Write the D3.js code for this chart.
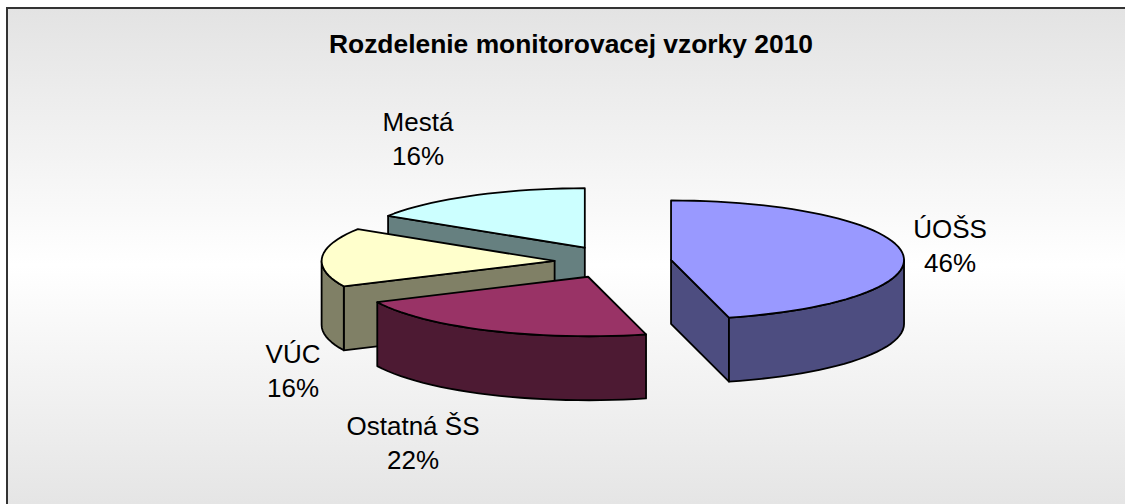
<!DOCTYPE html>
<html>
<head>
<meta charset="utf-8">
<script src="https://cdn.jsdelivr.net/npm/d3@7"></script>
<style>
  html, body { margin: 0; padding: 0; background: #fff; }
  svg { display: block; }
  text { font-family: "Liberation Sans", Arial, sans-serif; fill: #000; }
</style>
</head>
<body>
<div id="chart"></div>
<script>
var categories = ["ÚOŠS", "Ostatná ŠS", "VÚC", "Mestá"];
var shares = [46, 22, 16, 16];
var topColors = ["#9999ff", "#993366", "#ffffcc", "#ccffff"];
var sideColors = ["#4d4d80", "#4d1a33", "#808066", "#668080"];
var labelPos = [[950, 229], [413, 426], [293, 354], [418, 122]];
var chartTitle = "Rozdelenie monitorovacej vzorky 2010";

var w = 1125,
  h = 504,
  cx = 613,
  cy = 262,
  rx = 233,
  ry = 59.5,
  depth = 64,
  explode = 58.5,
  explodeY = 16.3;

var svg = d3.select("#chart").append("svg").attr("width", w).attr("height", h);

var grad = svg
  .append("defs")
  .append("linearGradient")
  .attr("id", "bg")
  .attr("x1", 0)
  .attr("y1", 0)
  .attr("x2", 0)
  .attr("y2", 1);
grad.append("stop").attr("offset", "0%").attr("stop-color", "#e3e3e3");
grad.append("stop").attr("offset", "50%").attr("stop-color", "#ffffff");
grad.append("stop").attr("offset", "100%").attr("stop-color", "#e3e3e3");

svg
  .append("rect")
  .attr("x", 7)
  .attr("y", 8)
  .attr("width", w + 10)
  .attr("height", h + 10)
  .attr("fill", "url(#bg)")
  .attr("stroke", "#333")
  .attr("stroke-width", 2);

svg
  .append("text")
  .attr("x", 571)
  .attr("y", 53)
  .attr("text-anchor", "middle")
  .attr("font-size", 26.4)
  .attr("font-weight", "bold")
  .text(chartTitle);

var slices = d3.pie().sort(null)(shares);
var line = d3.line();

// angle 0 is north, clockwise, squashed to an ellipse
function pt(c, a, dy) {
  return [
    c[0] + rx * Math.sin(a),
    c[1] - ry * Math.cos(a) + (dy || 0)
  ];
}

function arcPts(c, a0, a1, dy) {
  var n = Math.max(2, Math.ceil((a1 - a0) / 0.05));
  return d3.range(n + 1).map(function (i) {
    return pt(c, a0 + ((a1 - a0) * i) / n, dy);
  });
}

function drawFace(pts, fill) {
  svg
    .append("path")
    .attr("d", line(pts) + "Z")
    .attr("fill", fill)
    .attr("stroke", "#000")
    .attr("stroke-width", 1.8)
    .attr("stroke-linejoin", "round");
}

function drawWall(c, a, fill) {
  var p = pt(c, a);
  drawFace([c, p, [p[0], p[1] + depth], [c[0], c[1] + depth]], fill);
}

// back slices first, blue last
[3, 2, 1, 0].forEach(function (i) {
  var s = slices[i];
  var mid = (s.startAngle + s.endAngle) / 2;
  var c = [
    cx + explode * Math.sin(mid),
    cy - explodeY * Math.cos(mid)
  ];

  if (Math.sin(s.startAngle) < 0) drawWall(c, s.startAngle, sideColors[i]);
  if (Math.sin(s.endAngle) > 0) drawWall(c, s.endAngle, sideColors[i]);

  var a0 = Math.max(s.startAngle, Math.PI / 2);
  var a1 = Math.min(s.endAngle, (3 * Math.PI) / 2);
  if (a1 > a0) {
    drawFace(
      arcPts(c, a0, a1, 0).concat(arcPts(c, a0, a1, depth).reverse()),
      sideColors[i]
    );
  }

  drawFace([c].concat(arcPts(c, s.startAngle, s.endAngle, 0)), topColors[i]);
});

var labels = svg
  .selectAll(".label")
  .data(categories)
  .enter()
  .append("text")
  .attr("class", "label")
  .attr("text-anchor", "middle")
  .attr("font-size", 26);

labels
  .append("tspan")
  .attr("x", function (d, i) { return labelPos[i][0]; })
  .attr("y", function (d, i) { return labelPos[i][1] + 9; })
  .text(function (d) { return d; });

labels
  .append("tspan")
  .attr("x", function (d, i) { return labelPos[i][0]; })
  .attr("y", function (d, i) { return labelPos[i][1] + 43; })
  .text(function (d, i) { return shares[i] + "%"; });
</script>
</body>
</html>
